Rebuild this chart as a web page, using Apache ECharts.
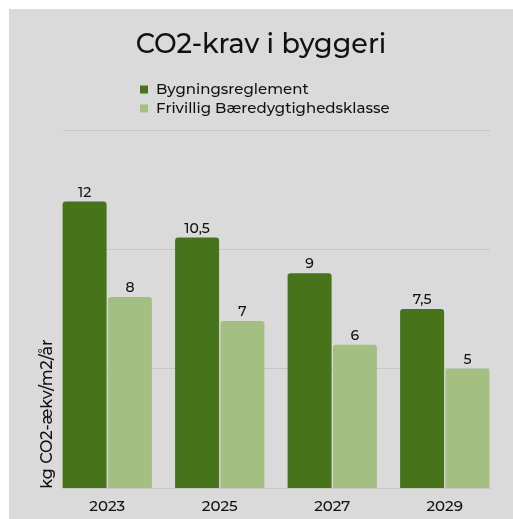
<!DOCTYPE html>
<html>
<head>
<meta charset="utf-8">
<script src="https://cdn.jsdelivr.net/npm/echarts@6/dist/echarts.min.js"></script>
<style>
  html, body { margin: 0; padding: 0; background: #fff; }
  #chart { position: absolute; left: 9px; top: 9px; width: 504px; height: 510px; }
</style>
</head>
<body>
<div id="chart"></div>
<script>
const years = ['2023', '2025', '2027', '2029'];
const reglement = [12, 10.5, 9, 7.5];
const frivillig = [8, 7, 6, 5];
const seriesNames = ['Bygningsreglement', 'Frivillig Bæredygtighedsklasse'];
const yTicks = [0, 5, 10, 15];

const font = 'Montserrat, "DejaVu Sans", sans-serif';
const colors = ['#47731b', '#a4bf82'];

const myChart = echarts.init(document.getElementById('chart'));

function labelFmt(p) {
  return String(p.value).replace('.', ',');
}

const options = {
  backgroundColor: '#dadada',
  animation: false,
  title: {
    text: 'CO2-krav i byggeri',
    left: 'center',
    top: 18,
    textStyle: { color: '#111', fontSize: 27, fontWeight: 500, fontFamily: font },
  },
  legend: {
    orient: 'vertical',
    left: 126,
    top: 68,
    itemWidth: 8,
    itemHeight: 8,
    itemGap: 4,
    icon: 'rect',
    data: seriesNames,
    textStyle: { color: '#111', fontSize: 15, fontWeight: 500, fontFamily: font, padding: [0, 0, 0, 3] },
  },
  graphic: [
    {
      type: 'text',
      x: 38,
      y: 405,
      rotation: Math.PI / 2,
      style: {
        text: 'kg CO2-ækv/m2/år',
        fill: '#111',
        font: '500 16px ' + font,
        align: 'center',
        verticalAlign: 'middle',
      },
    },
  ],
  grid: [
    { left: 54, right: 23, top: 121, bottom: 31 },
    { left: 42, right: 12, top: 121, bottom: 31 },
  ],
  xAxis: [
    {
      gridIndex: 0,
      type: 'category',
      data: years,
      axisLine: { show: true, lineStyle: { color: '#c6c6c6' } },
      axisTick: { show: false },
      axisLabel: { show: false },
    },
    {
      gridIndex: 1,
      type: 'category',
      data: years,
      axisLine: { show: false },
      axisTick: { show: false },
      axisLabel: { color: '#111', fontSize: 15, fontWeight: 500, fontFamily: font, margin: 11 },
    },
  ],
  yAxis: [
    {
      gridIndex: 0,
      type: 'value',
      min: yTicks[0],
      max: yTicks[yTicks.length - 1],
      interval: 5,
      axisLabel: { show: false },
      axisLine: { show: false },
      axisTick: { show: false },
      splitLine: { lineStyle: { color: '#c6c6c6', width: 1 } },
    },
    {
      gridIndex: 1,
      type: 'value',
      min: yTicks[0],
      max: yTicks[yTicks.length - 1],
      interval: 5,
      show: false,
    },
  ],
  series: [
    {
      name: seriesNames[0],
      type: 'bar',
      xAxisIndex: 1,
      yAxisIndex: 1,
      data: reglement,
      barWidth: 44,
      barGap: '3%',
      itemStyle: { color: colors[0], borderRadius: [3, 3, 0, 0] },
      label: { show: true, position: 'top', distance: 2, color: '#111', fontSize: 14, fontWeight: 500, fontFamily: font, formatter: labelFmt },
    },
    {
      name: seriesNames[1],
      type: 'bar',
      xAxisIndex: 1,
      yAxisIndex: 1,
      data: frivillig,
      barWidth: 44,
      itemStyle: { color: colors[1], borderRadius: [3, 3, 0, 0] },
      label: { show: true, position: 'top', distance: 2, color: '#111', fontSize: 14, fontWeight: 500, fontFamily: font, formatter: labelFmt },
    },
  ],
};

myChart.setOption(options);
</script>
</body>
</html>
